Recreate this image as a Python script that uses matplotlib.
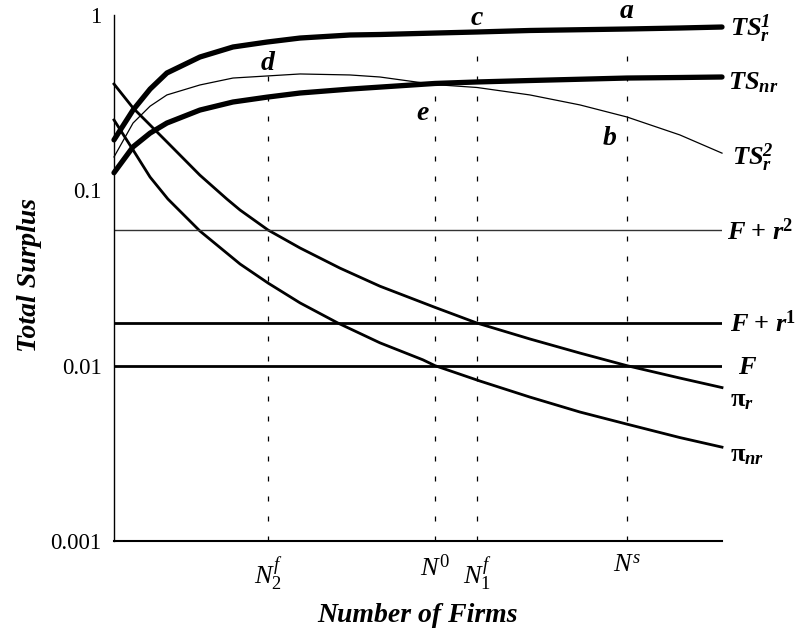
import matplotlib
matplotlib.use("Agg")
import matplotlib.pyplot as plt

# ---------------- data ----------------
# number of firms (arbitrary units, left axis = 1, right end = 31)
N_ts = [1.0, 1.94, 2.78, 3.61, 5.24, 6.87, 8.55, 10.18, 12.64, 14.12,
        16.84, 18.91, 21.52, 26.31, 28.92, 31.0]
TS_r1 = [0.194, 0.287, 0.378, 0.467, 0.576, 0.657, 0.701, 0.739, 0.769,
         0.774, 0.789, 0.800, 0.816, 0.832, 0.843, 0.854]
TS_nr = [0.126, 0.177, 0.212, 0.242, 0.287, 0.319, 0.340, 0.359, 0.378,
         0.388, 0.407, 0.415, 0.423, 0.437, 0.440, 0.443]

N_ts2 = [1.0, 1.94, 2.78, 3.61, 5.24, 6.87, 8.55, 10.18, 12.64, 14.12,
         16.84, 18.91, 21.52, 23.99, 26.31, 28.92, 31.0]
TS_r2 = [0.155, 0.242, 0.302, 0.350, 0.399, 0.437, 0.449, 0.461, 0.455,
         0.443, 0.401, 0.386, 0.350, 0.307, 0.262, 0.207, 0.163]

N_pr = [1.0, 1.94, 3.61, 5.24, 6.57, 7.22, 8.60, 10.18, 12.15, 14.12,
        16.84, 18.91, 21.52, 23.99, 26.31, 28.92, 31.0]
pi_r = [0.404, 0.295, 0.189, 0.122, 0.0892, 0.0772, 0.0594, 0.0469, 0.0360,
        0.0284, 0.0215, 0.0175, 0.0142, 0.0118, 0.0100, 0.00850, 0.00750]

N_pnr = [1.0, 1.94, 2.78, 3.66, 5.24, 7.22, 8.60, 10.18, 12.05, 14.12,
         16.24, 16.84, 19.06, 21.52, 23.99, 26.31, 28.92, 31.0]
pi_nr = [0.252, 0.170, 0.119, 0.0892, 0.0586, 0.0380, 0.0296, 0.0228, 0.0175,
         0.0135, 0.0108, 0.0100, 0.00817, 0.00662, 0.00544, 0.00464, 0.00389,
         0.00343]

F = 0.01
F_r1 = 0.0175
F_r2 = 0.0594

# special numbers of firms
N_marks = [8.60, 16.84, 18.91, 26.31]
N_labels = [r'$N_{\mathrm{2}}^{f}$', r'$N^{\mathrm{0}}$',
            r'$N_{\mathrm{1}}^{f}$', r'$N^{s}$']
drop_top = [0.449, 0.383, 0.648, 0.665]

# point letters
pt_letters = ['d', 'e', 'c', 'a', 'b']
pt_N = [8.60, 16.24, 18.91, 26.31, 25.47]
pt_v = [0.532, 0.276, 0.949, 1.045, 0.198]

y_ticks = [0.001, 0.01, 0.1, 1]
y_ticklabels = ['0.001', '0.01', '0.1', '1']

# ---------------- style ----------------
plt.rcParams['font.family'] = ['Liberation Serif', 'DejaVu Serif']
plt.rcParams['mathtext.fontset'] = 'custom'
plt.rcParams['mathtext.rm'] = 'Liberation Serif'
plt.rcParams['mathtext.it'] = 'Liberation Serif:italic'
plt.rcParams['mathtext.bf'] = 'Liberation Serif:bold'
plt.rcParams['mathtext.bfit'] = 'Liberation Serif:italic:bold'
plt.rcParams['lines.scale_dashes'] = False

fig = plt.figure(figsize=(8.01, 6.37), dpi=100)
ax = fig.add_axes([114 / 801, 1 - 541 / 637, 608 / 801, 526 / 637])
ax.set_yscale('log')
ax.set_ylim(0.001, 1)
ax.set_xlim(1, 31)

thick = dict(color='black', lw=3.8, solid_capstyle='round',
             solid_joinstyle='round', clip_on=False)
ax.plot(N_ts, TS_r1, **thick)
ax.plot(N_ts, TS_nr, **thick)
ax.plot(N_ts2, TS_r2, color='black', lw=0.9, clip_on=False)
ax.plot(N_pr, pi_r, color='black', lw=2.0, clip_on=False,
        solid_joinstyle='round')
ax.plot(N_pnr, pi_nr, color='black', lw=2.0, clip_on=False,
        solid_joinstyle='round')

ax.axhline(F_r2, color='#333333', lw=1.0)
ax.axhline(F_r1, color='black', lw=2.0)
ax.axhline(F, color='black', lw=2.0)

for n, top in zip(N_marks, drop_top):
    ax.plot([n, n], [0.001, top], color='black', lw=0.9,
            dashes=(3.6, 10.8))

# right-hand curve labels
lab_kw = dict(textcoords='offset pixels', va='center', ha='left',
              fontsize=19, annotation_clip=False)
ax.annotate(r'$\mathbfit{TS}_{\mathbfit{r}}^{\mathbfit{1}}$',
            xy=(N_ts[-1], TS_r1[-1]), xytext=(8, -2), **lab_kw)
ax.annotate(r'$\mathbfit{TS}_{\mathbfit{nr}}$',
            xy=(N_ts[-1], TS_nr[-1]), xytext=(6, -6), **lab_kw)
ax.annotate(r'$\mathbfit{TS}_{\mathbfit{r}}^{\mathbfit{2}}$',
            xy=(N_ts2[-1], TS_r2[-1]), xytext=(10, -5), **lab_kw)
ax.annotate(r'$\mathbfit{F}\ \mathbf{+}\ \mathbfit{r}^{\mathbf{2}}$',
            xy=(31, F_r2), xytext=(5, -2), **lab_kw)
ax.annotate(r'$\mathbfit{F}\ \mathbf{+}\ \mathbfit{r}^{\mathbf{1}}$',
            xy=(31, F_r1), xytext=(8, -1), **lab_kw)
ax.annotate(r'$\mathbfit{F}$', xy=(31, F), xytext=(16, -2), **lab_kw)
ax.annotate(r'$\mathbf{\pi}_{\mathbfit{r}}$',
            xy=(N_pr[-1], pi_r[-1]), xytext=(8, -13), **lab_kw)
ax.annotate(r'$\mathbf{\pi}_{\mathbfit{nr}}$',
            xy=(N_pnr[-1], pi_nr[-1]), xytext=(8, -9), **lab_kw)

for s, n, v in zip(pt_letters, pt_N, pt_v):
    ax.text(n, v, s, ha='center', va='center', fontsize=20,
            fontweight='bold', fontstyle='italic', clip_on=False)

# axes
for side in ['top', 'right']:
    ax.spines[side].set_visible(False)
ax.spines['left'].set_linewidth(1.0)
ax.spines['bottom'].set_linewidth(1.5)
ax.set_yticks(y_ticks)
ax.set_yticklabels(y_ticklabels)
ax.yaxis.set_minor_locator(matplotlib.ticker.NullLocator())
ax.set_xticks(N_marks)
ax.set_xticklabels(N_labels)
ax.tick_params(axis='y', length=0, pad=9, labelsize=16.5)
ax.tick_params(axis='x', length=0, pad=10, labelsize=19)

fig.text(30 / 801, 1 - 275 / 637, 'Total Surplus', rotation=90,
         ha='center', va='center', fontsize=20, fontweight='bold',
         fontstyle='italic')
fig.text(418 / 801, 1 - 615 / 637, 'Number of Firms', ha='center',
         va='center', fontsize=20, fontweight='bold', fontstyle='italic')

fig.savefig('out.png', dpi=100)
